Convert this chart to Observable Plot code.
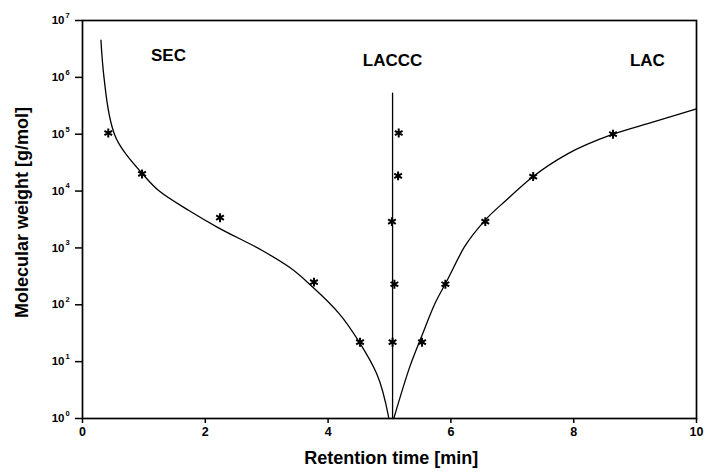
<!DOCTYPE html>
<html>
<head>
<meta charset="utf-8">
<script src="https://cdn.jsdelivr.net/npm/d3@7"></script>
<script src="https://cdn.jsdelivr.net/npm/@observablehq/plot@0.6"></script>
<style>
  html, body { margin: 0; padding: 0; background: #fff; }
</style>
</head>
<body>
<div id="chart"></div>
<script>
// SEC calibration curve (retention time [min], molecular weight [g/mol])
const secT = [0.30, 0.35, 0.52, 0.98, 1.25, 1.74, 2.2, 2.92, 3.36, 3.77, 4.18, 4.52, 4.79, 4.99];
const secM = [4.5e6, 1e6, 1e5, 2e4, 1e4, 4.5e3, 2.3e3, 910, 465, 195, 70, 21, 6.2, 1];
// LAC calibration curve
const lacT = [5.07, 5.33, 5.54, 5.74, 5.94, 6.22, 6.56, 6.9, 7.34, 7.9, 8.64, 9.26, 10.0];
const lacM = [1, 8.1, 31, 105, 270, 1040, 3.1e3, 6.9e3, 1.8e4, 4.5e4, 1.0e5, 1.6e5, 2.8e5];
// LACCC (critical conditions) vertical line
const lacccT = [5.05, 5.05];
const lacccM = [1, 5.3e5];
// Measured points (stars)
const secPtT = [0.42, 0.97, 2.24, 3.77, 4.52];
const secPtM = [1.05e5, 2.0e4, 3.4e3, 250, 22];
const lacccPtT = [5.15, 5.14, 5.04, 5.08, 5.05];
const lacccPtM = [1.05e5, 1.85e4, 2.9e3, 230, 22];
const lacPtT = [5.53, 5.91, 6.56, 7.34, 8.64];
const lacPtM = [22, 230, 2.9e3, 1.8e4, 1.0e5];
// Region labels
const regionText = ["SEC", "LACCC", "LAC"];
const regionT = [1.40, 5.05, 9.2];
const regionM = [2.4e6, 2.0e6, 2.0e6];
// Axis ticks and titles
const xTicks = [0, 2, 4, 6, 8, 10];
const yExp = [0, 1, 2, 3, 4, 5, 6, 7];
const xTitle = "Retention time [min]";
const yTitle = "Molecular weight [g/mol]";

const zip = (xs, ys) => xs.map((x, i) => ({x, y: ys[i]}));
const secLine = zip(secT, secM);
const lacLine = zip(lacT, lacM);
const lacccLine = zip(lacccT, lacccM);
const points = [...zip(secPtT, secPtM), ...zip(lacccPtT, lacccPtM), ...zip(lacPtT, lacPtM)];
const regions = regionText.map((t, i) => ({t, x: regionT[i], y: regionM[i]}));
const yTicks = yExp.map(e => ({e, v: Math.pow(10, e)}));
const FONT = "'Liberation Sans', Arial, sans-serif";

const chart = Plot.plot({
  width: 706,
  height: 475,
  marginLeft: 82,
  marginRight: 10,
  marginTop: 20,
  marginBottom: 57,
  style: "font-family: 'Liberation Sans', Arial, sans-serif; background: white;",
  x: {domain: [0, 10]},
  y: {type: "log", domain: [1, 1e7]},
  marks: [
    Plot.axisX({ticks: xTicks, tickSize: 5, tickPadding: 4, fontSize: 12.5, fontWeight: "bold", stroke: "black", strokeWidth: 1.5, label: null}),
    Plot.axisY({ticks: yTicks.map(d => d.v), tickSize: 7, tickFormat: () => "", stroke: "black", strokeWidth: 1.5, label: null}),
    Plot.text(yTicks, {y: "v", frameAnchor: "left", dx: -18, text: () => "10", textAnchor: "end", fontSize: 11.5, fontWeight: "bold", fontFamily: FONT}),
    Plot.text(yTicks, {y: "v", frameAnchor: "left", dx: -17, dy: -5, text: d => String(d.e), textAnchor: "start", fontSize: 7.5, fontWeight: "bold", fontFamily: FONT}),
    Plot.frame({stroke: "black", strokeWidth: 1.7}),
    Plot.line(secLine, {x: "x", y: "y", curve: "monotone-y", stroke: "black", strokeWidth: 1.3}),
    Plot.line(lacLine, {x: "x", y: "y", curve: "monotone-x", stroke: "black", strokeWidth: 1.3}),
    Plot.line(lacccLine, {x: "x", y: "y", stroke: "black", strokeWidth: 1.3}),
    Plot.dot(points, {x: "x", y: "y", symbol: "asterisk", r: 4.2, stroke: "black", strokeWidth: 2}),
    Plot.text(regions, {x: "x", y: "y", text: "t", fontSize: 17, fontWeight: "bold", letterSpacing: "3.5px", fontFamily: FONT}),
    Plot.text([xTitle], {x: [5.03], frameAnchor: "bottom", dy: 45, textAnchor: "middle", fontSize: 18, fontWeight: "bold", letterSpacing: "2.2px", fontFamily: FONT}),
    Plot.text([yTitle], {y: [4.2e3], frameAnchor: "left", dx: -60, rotate: -90, textAnchor: "middle", fontSize: 18, fontWeight: "bold", letterSpacing: "3px", fontFamily: FONT})
  ]
});
document.getElementById("chart").appendChild(chart);
</script>
</body>
</html>
